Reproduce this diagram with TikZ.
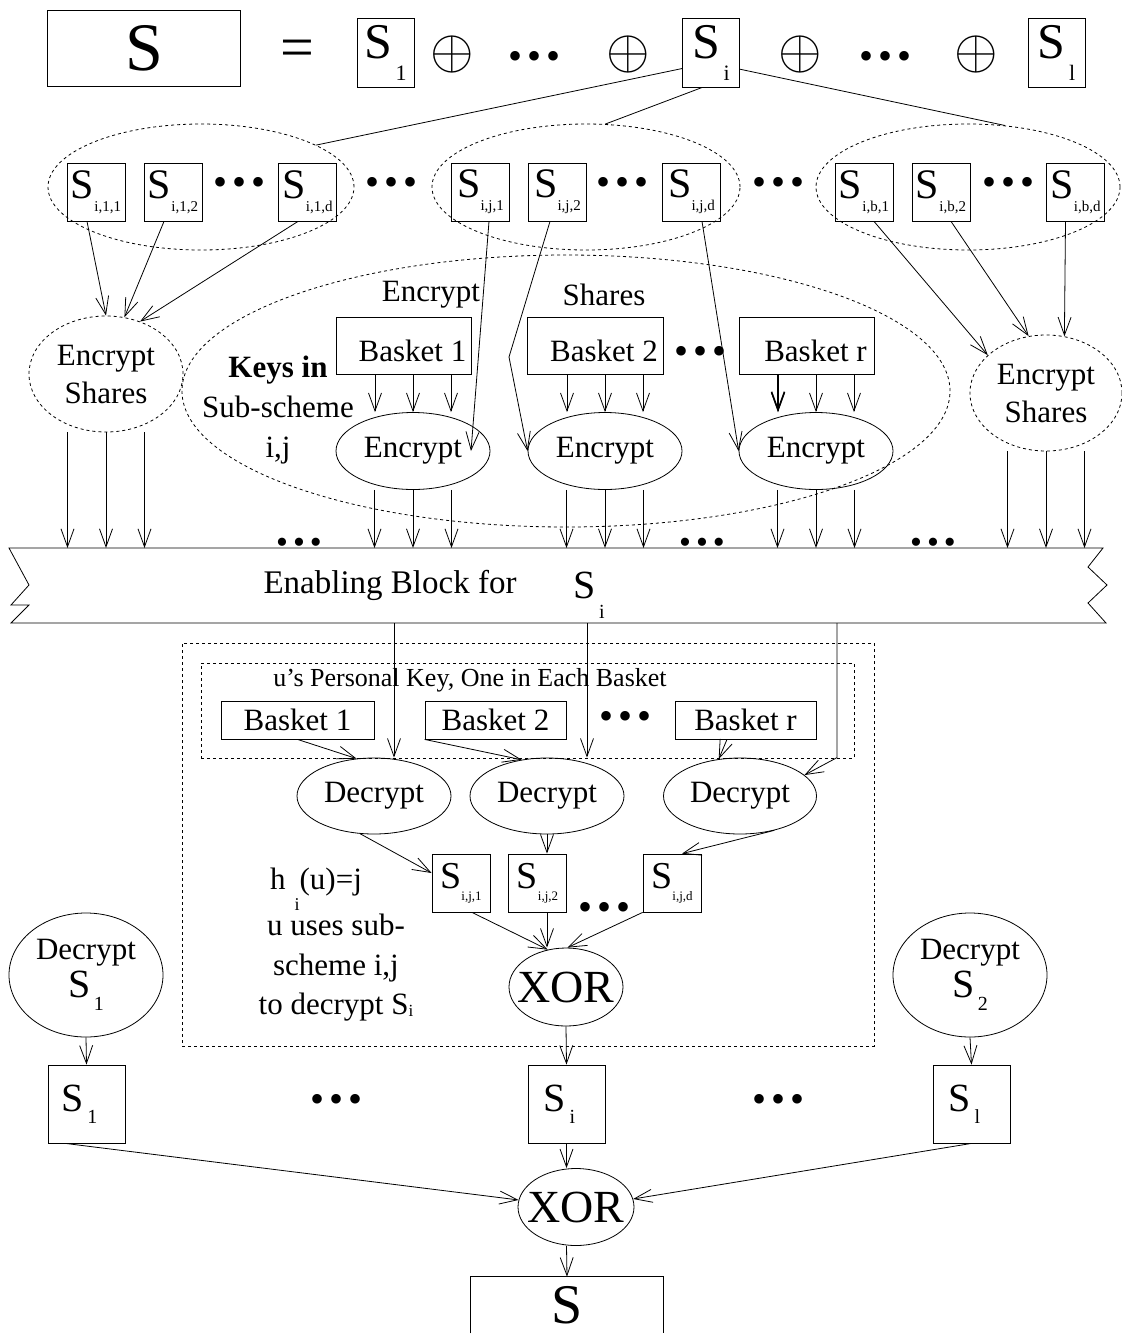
\documentclass[tikz,border=0pt]{standalone}
\usepackage{fontspec}
\setmainfont{Liberation Serif}
\usetikzlibrary{arrows.meta,positioning,fit,shapes.geometric,calc}

\newcommand{\lbl}{\fontsize{31}{38}\selectfont}
\newcommand{\bulls}[1][40]{{\fontsize{#1}{#1}\selectfont\textbullet\kern5pt\textbullet\kern5pt\textbullet}}
\newcommand{\xplus}{\scalebox{5.6}{\normalsize$\oplus$}}
\newcommand{\Stop}[1]{{\fontsize{50}{50}\selectfont S}\raisebox{-22pt}{\fontsize{22}{22}\selectfont\,#1}}
\newcommand{\Ssub}[1]{{\fontsize{42}{42}\selectfont S}\raisebox{-13pt}{\fontsize{15}{15}\selectfont #1}}
\newcommand{\Slow}[1]{{\fontsize{38}{38}\selectfont S}\raisebox{-12pt}{\fontsize{13}{13}\selectfont #1}}
\newcommand{\Sdec}[1]{{\fontsize{40}{40}\selectfont S}\raisebox{-13pt}{\fontsize{20}{20}\selectfont\,#1}}
\newcommand{\Sbot}[1]{{\fontsize{40}{40}\selectfont S}\raisebox{-12pt}{\fontsize{20}{20}\selectfont\,#1}\hspace*{14pt}}

\begin{document}
\begin{tikzpicture}[x=1pt, y=-1pt, line width=0.8pt, every node/.style={font=\lbl},
  arr/.style={-{Straight Barb[length=18pt,width=13pt]}},
  box/.style={draw, inner sep=0pt},
  sbox/.style={box, minimum width=58, minimum height=58},
  tbox/.style={box, minimum width=57, minimum height=69},
  basket/.style={box, minimum height=57, text height=33pt},
  oplus/.style={inner sep=0pt},
  grp/.style={draw, ellipse, dash pattern=on 3pt off 3pt, inner sep=0pt},
  oval/.style={draw, ellipse, inner sep=0pt, minimum width=154, minimum height=77},
  fence/.style={draw, dash pattern=on 3pt off 3pt, inner sep=0pt}]
\useasboundingbox (0,0) rectangle (1122,1334);

% secret and its split
\node[box, minimum width=193, minimum height=76, font=\fontsize{68}{68}\selectfont] (bigS) at (144,48) {\raisebox{-4pt}{S}};
\node[font=\fontsize{60}{60}\selectfont] (eq) at (297,54) {=};
\node[tbox] (sOne) at (385.5,52.5) {\Stop{1}};
\node[oplus] (opA) at (452,54) {\xplus};
\node (dotA) at (535,60) {\bulls};
\node[oplus] (opB) at (628,54) {\xplus};
\node[tbox] (sI) at (711,52.5) {\Stop{i}};
\node[oplus] (opC) at (800,54) {\xplus};
\node (dotB) at (885,60) {\bulls};
\node[oplus] (opD) at (976,54) {\xplus};
\node[tbox] (sL) at (1056.5,52.5) {\Stop{l}};

% sub-schemes
\node[grp, minimum width=306, minimum height=126] (grpOne) at (201,187) {};
\node[grp, minimum width=308, minimum height=126] (grpJ) at (586,187) {};
\node[grp, minimum width=304, minimum height=126] (grpB) at (968,187) {};
\node[sbox] (s11) at (96,192) {\Ssub{i,1,1}};
\node[sbox] (s12) at (173,192) {\Ssub{i,1,2}};
\node (dotC) at (240,186) {\bulls};
\node[sbox] (s1d) at (307.5,192) {\Ssub{i,1,d}};
\node (dotD) at (392,186) {\bulls};
\node[sbox] (sj1) at (480.5,192) {\Ssub{i,j,1}};
\node[sbox] (sj2) at (557.5,192) {\Ssub{i,j,2}};
\node (dotE) at (623,186) {\bulls};
\node[sbox] (sjd) at (691.5,192) {\Ssub{i,j,d}};
\node (dotF) at (778,186) {\bulls};
\node[sbox] (sb1) at (864,192) {\Ssub{i,b,1}};
\node[sbox] (sb2) at (941,192) {\Ssub{i,b,2}};
\node (dotG) at (1008,186) {\bulls};
\node[sbox] (sbd) at (1075.5,192) {\Ssub{i,b,d}};
\draw (sI.209) -- (grpOne.20);
\draw (sI.256) -- (grpJ.73);
\draw (sI.-30) -- (grpB.59);

% encryption of the shares
\node[grp, minimum width=768, minimum height=272] (keys) at (566,391) {};
\node[grp, minimum width=154, minimum height=116, align=center] (encL) at (106,374) {Encrypt\\Shares};
\node[grp, minimum width=152, minimum height=116, align=center] (encR) at (1046,393) {Encrypt\\Shares};
\node (encTxt) at (431,295) {Encrypt};
\node (shTxt) at (604,295) {Shares};
\node[basket, minimum width=135] (bk1) at (403.5,345.5) {\hspace*{18pt}Basket 1};
\node[basket, minimum width=136] (bk2) at (595,345.5) {\hspace*{18pt}Basket 2};
\node (dotH) at (700,355) {\bulls};
\node[basket, minimum width=135] (bkr) at (806.5,345.5) {\hspace*{18pt}Basket r};
\node[align=center, font=\fontsize{31}{40}\selectfont] (keysTxt) at (278,410) {\textbf{Keys in}\\Sub-scheme\\i,j};
\node[oval] (enc1) at (413,451) {Encrypt};
\node[oval] (enc2) at (605,451) {Encrypt};
\node[oval] (enc3) at (816,451) {Encrypt};
\foreach \en/\bsk in {enc1/bk1, enc2/bk2, enc3/bkr}
  \foreach \dx in {-38,0,38}
    \draw[arr] ([xshift=\dx]\en.north |- \bsk.south) -- ([xshift=\dx]\en.north);
\draw[arr, line width=1.6pt] ([xshift=-38]enc3.north |- bkr.south) -- ([xshift=-38]enc3.north);
\draw[arr] ([xshift=-9]s11.south) -- (encL.north);
\draw[arr] ([xshift=-9]s12.south) -- (encL.72);
\draw[arr] ([xshift=-9.5]s1d.south) -- (encL.57);
\draw[arr] ([xshift=8.5]sj1.south) -- ([xshift=58]enc1.center);
\coordinate (bend) at (509,357);
\draw[arr] ([xshift=-7.5]sj2.south) -- (bend) -- (enc2.west);
\draw[arr] ([xshift=10.5]sjd.south) -- (enc3.west);
\draw[arr] ([xshift=10]sb1.south) -- (encR.147);
\draw[arr] ([xshift=10]sb2.south) -- (encR.107);
\draw[arr] ([xshift=-10]sbd.south) -- (encR.72);

% enabling block
\coordinate (blkTop) at (0,548);
\draw (9,548) -- (1103,548) -- (1088,567) -- (1107,585) -- (1088,603) -- (1106,623)
  -- (11,623) -- (29,605) -- (11,605) -- (29,585) -- cycle;
\node[font=\fontsize{33}{33}\selectfont] (blkTxt) at (390,585) {Enabling Block for};
\node[font=\fontsize{40}{40}\selectfont] (blkS) at (589,595) {S\raisebox{-20pt}{\fontsize{20}{20}\selectfont\,i}};
\foreach \en in {encL, enc1, enc2, enc3, encR}
  \foreach \dx in {-38.5,0,38.5}
    \draw[arr] ([xshift=\dx]\en.south) -- ([xshift=\dx]\en.south |- blkTop);
\node (dotI) at (299,546) {\bulls[34]};
\node (dotJ) at (702,546) {\bulls[34]};
\node (dotK) at (933,546) {\bulls[34]};

% user u decrypts
\node[fence, minimum width=692, minimum height=403] (usr) at (528,844.5) {};
\node[fence, minimum width=653, minimum height=95] (pkey) at (527.5,710.5) {};
\node[font=\fontsize{26}{26}\selectfont] (pkTxt) at (470,680) {u's Personal Key, One in Each Basket};
\node[box, minimum width=153, minimum height=38] (bka) at (297.5,720) {Basket 1};
\node[box, minimum width=141, minimum height=38] (bkb) at (495.5,720) {Basket 2};
\node (dotL) at (625,720) {\bulls};
\node[box, minimum width=141, minimum height=38] (bkc) at (745.5,720) {Basket r};
\node[oval, minimum height=76] (dec1) at (374,796) {Decrypt};
\node[oval, minimum height=76] (dec2) at (547,796) {Decrypt};
\node[oval, minimum height=76, minimum width=153] (dec3) at (740,796) {Decrypt};
\coordinate (cutA) at (394,623);
\coordinate (cutB) at (587,623);
\coordinate (cutC) at (837,623);
\draw[arr] (cutA) -- (cutA |- dec1.north);
\draw[arr] (cutB) -- (cutB |- dec2.north);
\draw[arr] (cutC) -- (cutC |- dec3.north) -- (dec3.18);
\draw[arr] (bka.south) -- (dec1.115);
\draw[arr] (bkb.south west) -- (dec2.125);
\draw[arr] ([xshift=-18.5]bkc.south) -- (dec3.120);
\node[sbox] (t1) at (461,883) {\Slow{i,j,1}};
\node[sbox] (t2) at (537.5,883) {\Slow{i,j,2}};
\node (dotM) at (605,911) {\bulls};
\node[sbox] (td) at (672,883) {\Slow{i,j,d}};
\draw[arr] (dec1.250) -- ([yshift=10]t1.west);
\draw[arr] (dec2.south) -- (dec2.south |- t2.north);
\draw[arr] (dec3.-45) -- ([xshift=10]td.north);
\node[oval, minimum width=114, minimum height=78, font=\fontsize{46}{46}\selectfont] (xorA) at (566,987) {\makebox[0pt]{XOR}};
\draw[arr] ([xshift=11]t1.south) -- (xorA.116);
\draw[arr] ([xshift=9.5]t2.south) -- ([xshift=9.5]t2.south |- xorA.north);
\draw[arr] (td.south west) -- (xorA.88);
\node (hTxt) at (316,889) {h\kern9pt\raisebox{-21pt}{\fontsize{18}{18}\selectfont i}(u)=j};
\node[align=center, font=\fontsize{31}{39.5}\selectfont] (useTxt) at (336,968) {u uses sub-\\scheme i,j\\to decrypt S\raisebox{-2pt}{\fontsize{17}{17}\selectfont i}};

% recombination
\node[oval, minimum width=154, minimum height=124, align=center] (decS1) at (86,975) {Decrypt\\\Sdec{1}};
\node[oval, minimum width=154, minimum height=124, align=center] (decS2) at (970,975) {Decrypt\\\Sdec{2}};
\node[box, minimum width=77, minimum height=78] (so1) at (86.5,1104) {\Sbot{1}};
\node (dotN) at (337,1103) {\bulls};
\node[box, minimum width=77, minimum height=78] (siB) at (566.5,1104) {\Sbot{i}};
\node (dotO) at (778,1103) {\bulls};
\node[box, minimum width=77, minimum height=78] (slB) at (971.5,1104) {\Sbot{l}};
\draw[arr] (xorA.south) -- (siB.north);
\draw[arr] (decS1.south) -- (so1.north);
\draw[arr] (decS2.south) -- (slB.north);
\node[oval, minimum width=116, minimum height=77, font=\fontsize{46}{46}\selectfont] (xorB) at (576,1207) {\makebox[0pt]{XOR}};
\draw[arr] (siB.south) -- (siB.south |- xorB.north);
\draw[arr] ([xshift=-21]so1.south) -- (xorB.173);
\draw[arr] (slB.south) -- (xorB.8);
\node[inner sep=0pt, minimum width=192, minimum height=56, font=\fontsize{56}{56}\selectfont] (finS) at (567,1305) {S};
\draw (finS.south west) |- (finS.north east) -- (finS.south east);
\draw[arr] (siB.south |- xorB.south) -- (finS.north);
\end{tikzpicture}
\end{document}
